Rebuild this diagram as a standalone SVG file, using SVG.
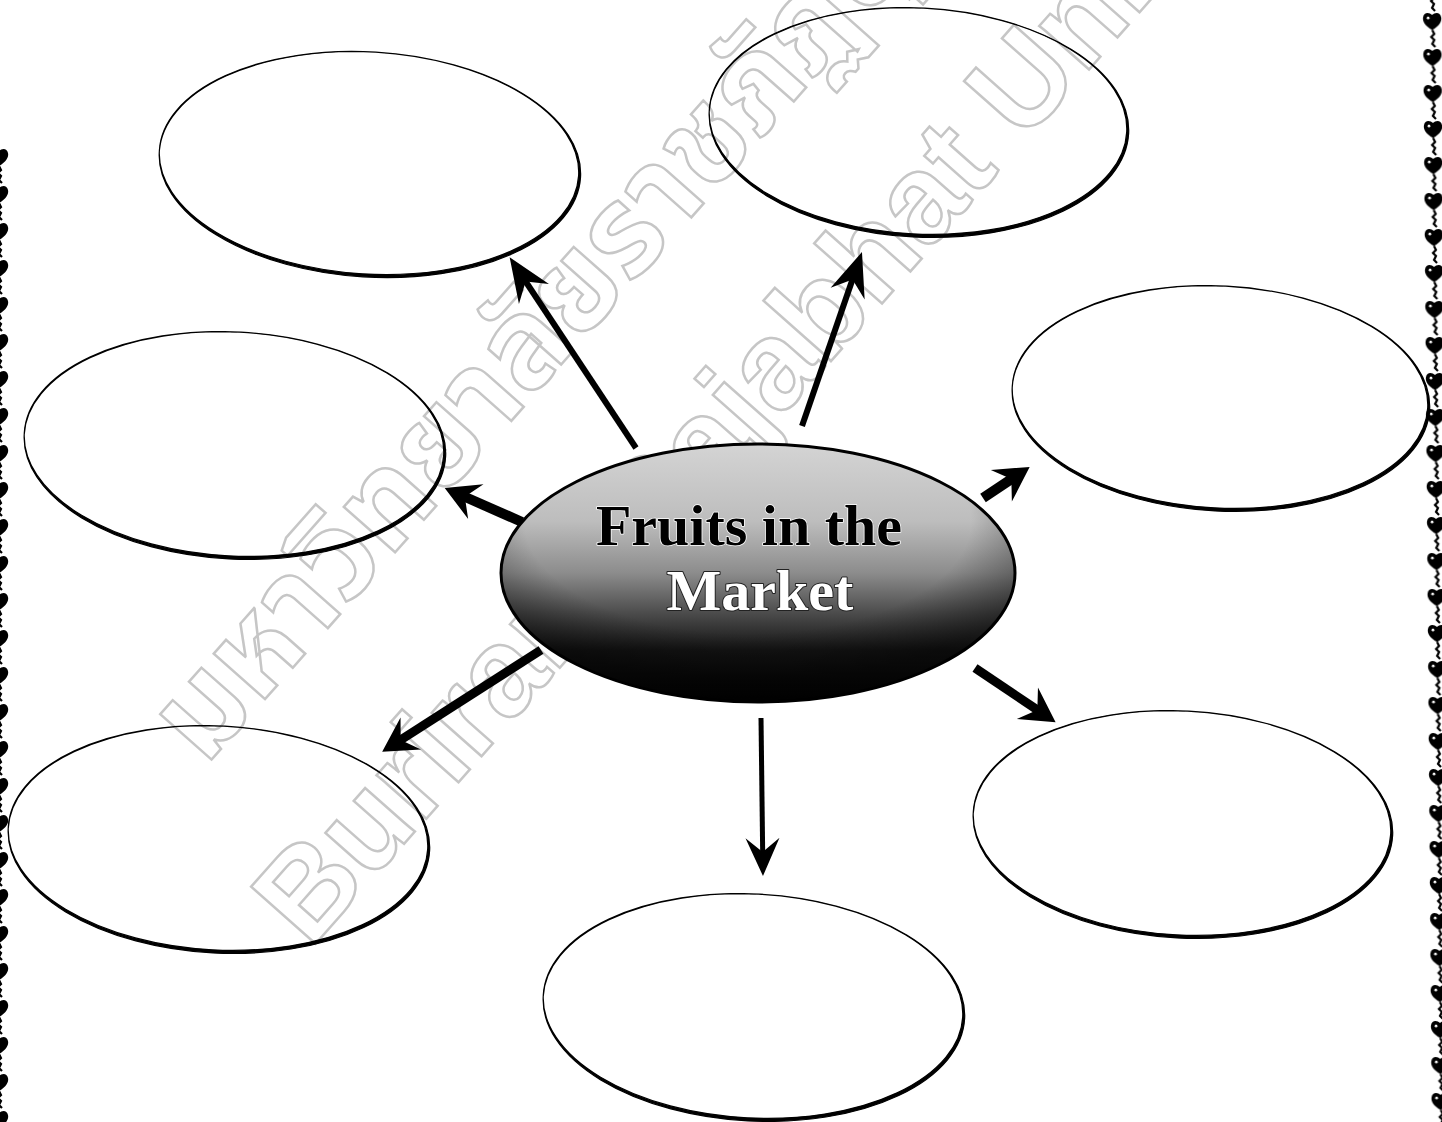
<svg xmlns="http://www.w3.org/2000/svg" width="1442" height="1122" viewBox="0 0 1442 1122">
<style>
.ring{fill:#000;fill-rule:evenodd;stroke:#000;stroke-width:1.2}
.wm{fill:none;stroke:#c6c6c6;stroke-width:2.5;font-weight:bold;font-size:125px}
.arrow{fill:none;stroke:#000;stroke-linecap:butt}
.title{font-family:"Liberation Serif","Times New Roman",serif;font-weight:bold;font-size:58px;text-anchor:middle;paint-order:stroke;stroke-linejoin:round}
</style>
<defs>
  <linearGradient id="shade" x1="0" y1="0" x2="0" y2="1">
    <stop offset="0" stop-color="#d4d4d4"/>
    <stop offset="0.3" stop-color="#bdbdbd"/>
    <stop offset="0.5" stop-color="#8c8c8c"/>
    <stop offset="0.65" stop-color="#4e4e4e"/>
    <stop offset="0.8" stop-color="#141414"/>
    <stop offset="1" stop-color="#000"/>
  </linearGradient>
  <radialGradient id="edge" cx="0.48" cy="0.3" r="0.62">
    <stop offset="0.7" stop-color="#000" stop-opacity="0"/>
    <stop offset="1" stop-color="#000" stop-opacity="0.45"/>
  </radialGradient>
  <marker id="hd-lg" markerUnits="userSpaceOnUse" orient="auto" refX="-26" refY="0" markerWidth="1" markerHeight="1" overflow="visible"><path d="M0,0 L-44,-18 L-29,0 L-44,18Z" fill="#000"/></marker>
  <marker id="hd-md" markerUnits="userSpaceOnUse" orient="auto" refX="-20" refY="0" markerWidth="1" markerHeight="1" overflow="visible"><path d="M0,0 L-34,-19 L-22,0 L-34,19Z" fill="#000"/></marker>
  <marker id="hd-sm" markerUnits="userSpaceOnUse" orient="auto" refX="-22" refY="0" markerWidth="1" markerHeight="1" overflow="visible"><path d="M0,0 L-38,-17 L-24,0 L-38,17Z" fill="#000"/></marker>
  <g id="bead">
    <path d="M10,18 C3,14 0,9 1,5 C2,0 7,0 10,3 C13,0 18,0 19,5 C20,9 17,14 10,18 Z" fill="#000"/>
    <circle cx="6" cy="6" r="1.4" fill="#fff"/>
    <path d="M10,18 L12,22 L9,25 L12,28 L10,32 L13,35" fill="none" stroke="#000" stroke-width="2.2"/>
  </g>
  <pattern id="beadsR" patternUnits="userSpaceOnUse" x="1422" y="12" width="22" height="36"><use href="#bead"/></pattern>
  <pattern id="beadsL" patternUnits="userSpaceOnUse" x="-11" y="148" width="22" height="37"><use href="#bead"/></pattern>
</defs>
<rect width="1442" height="1122" fill="#fff"/>
<g id="border">
  <rect x="1422" y="0" width="22" height="1122" fill="url(#beadsR)" transform="skewX(0.45)"/>
  <rect x="-11" y="148" width="22" height="974" fill="url(#beadsL)"/>
</g>
<g id="watermark">
  <text class="wm" font-family="'Noto Sans Thai','Noto Sans','DejaVu Sans',sans-serif" transform="translate(205,767) rotate(-48.5)">มหาวิทยาลัยราชภัฏบุรีรัมย์</text>
  <text class="wm" font-family="'Liberation Sans',Arial,sans-serif" transform="translate(310,950) rotate(-48.5)">Buriram Rajabhat University</text>
</g>
<g id="nodes">
  <g id="node-top-left"><path class="ring" transform="rotate(3.5 369 163)" d="M159,163 a210,111 0 1 0 420,0 a210,111 0 1 0 -420,0Z M159,164.5 a211,112.5 0 1 0 422,0 a211,112.5 0 1 0 -422,0Z"/></g>
  <g id="node-top-right"><path class="ring" transform="rotate(3 918 121)" d="M709,121 a209,113 0 1 0 418,0 a209,113 0 1 0 -418,0Z M709,122.5 a210,114.5 0 1 0 420,0 a210,114.5 0 1 0 -420,0Z"/></g>
  <g id="node-right"><path class="ring" transform="rotate(3 1220 397)" d="M1012,397 a208,111 0 1 0 416,0 a208,111 0 1 0 -416,0Z M1012,398.5 a209,112.5 0 1 0 418,0 a209,112.5 0 1 0 -418,0Z"/></g>
  <g id="node-left"><path class="ring" transform="rotate(3 234 444)" d="M24,444 a210,112 0 1 0 420,0 a210,112 0 1 0 -420,0Z M24,445.5 a211,113.5 0 1 0 422,0 a211,113.5 0 1 0 -422,0Z"/></g>
  <g id="node-bottom-left"><path class="ring" transform="rotate(3 218 838)" d="M8,838 a210,112 0 1 0 420,0 a210,112 0 1 0 -420,0Z M8,839.5 a211,113.5 0 1 0 422,0 a211,113.5 0 1 0 -422,0Z"/></g>
  <g id="node-bottom-right"><path class="ring" transform="rotate(3 1182 823)" d="M973,823 a209,112 0 1 0 418,0 a209,112 0 1 0 -418,0Z M973,824.5 a210,113.5 0 1 0 420,0 a210,113.5 0 1 0 -420,0Z"/></g>
  <g id="node-bottom"><path class="ring" transform="rotate(3 753 1006)" d="M543,1006 a210,112 0 1 0 420,0 a210,112 0 1 0 -420,0Z M543,1007.5 a211,113.5 0 1 0 422,0 a211,113.5 0 1 0 -422,0Z"/></g>
  <g id="node-center">
    <ellipse cx="758" cy="573" rx="257" ry="129" fill="url(#shade)"/>
    <ellipse cx="758" cy="573" rx="257" ry="129" fill="url(#edge)" stroke="#000" stroke-width="3"/>
    <text class="title" x="749" y="545" fill="#000" stroke="#fff" stroke-width="1.5">Fruits in the</text>
    <text class="title" x="760" y="610" fill="#fff" stroke="#222" stroke-width="2">Market</text>
  </g>
</g>
<g id="connectors">
  <path class="arrow" stroke-width="6" marker-end="url(#hd-lg)" d="M636,448 L524,279"/>
  <path class="arrow" stroke-width="6" marker-end="url(#hd-lg)" d="M802,426 L853.5,276.6"/>
  <path class="arrow" stroke-width="10" marker-end="url(#hd-md)" d="M983,498 L1013,478"/>
  <path class="arrow" stroke-width="10" marker-end="url(#hd-md)" d="M522,522 L463,496"/>
  <path class="arrow" stroke-width="9" marker-end="url(#hd-md)" d="M541,650 L399,741"/>
  <path class="arrow" stroke-width="5" marker-end="url(#hd-sm)" d="M761,718 L762.7,854"/>
  <path class="arrow" stroke-width="9" marker-end="url(#hd-md)" d="M975,668 L1039,711"/>
</g>
</svg>
